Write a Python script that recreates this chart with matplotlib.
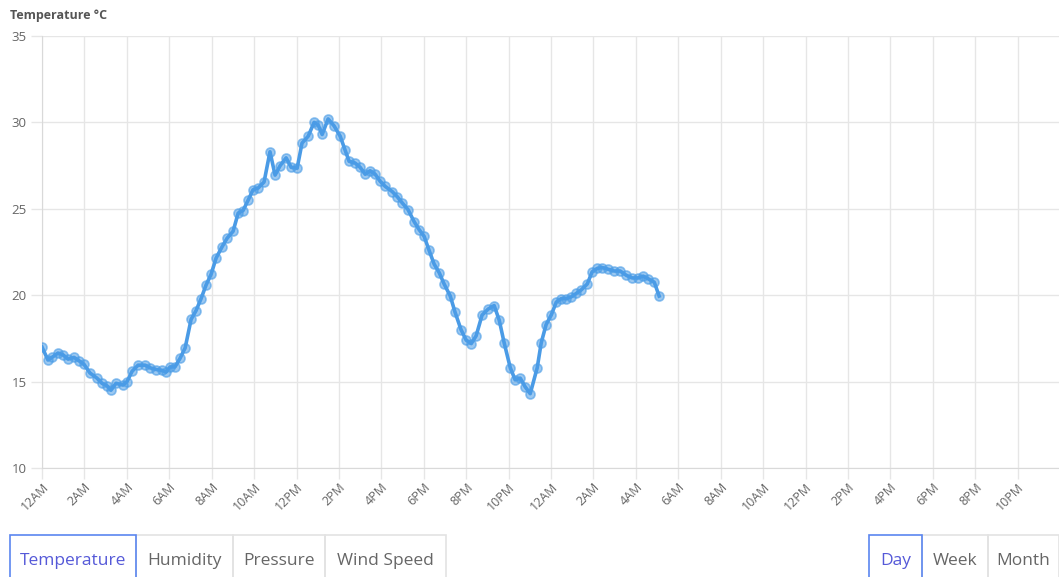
import matplotlib.pyplot as plt
from matplotlib.patches import Rectangle

plt.rcParams['font.family'] = ['Open Sans', 'DejaVu Sans']

# hours since midnight of day 1, and temperature readings (°C)
hours = [0.0, 0.28, 0.47, 0.75, 0.99, 1.23, 1.51, 1.75, 1.98, 2.26,
         2.59, 2.83, 3.07, 3.25, 3.49, 3.82, 4.01, 4.25, 4.53, 4.86,
         5.09, 5.38, 5.66, 5.85, 6.04, 6.27, 6.51, 6.75, 7.03, 7.26,
         7.5, 7.74, 7.97, 8.21, 8.49, 8.73, 9.01, 9.25, 9.48, 9.72,
         9.95, 10.19, 10.47, 10.75, 10.99, 11.23, 11.51, 11.75, 12.03, 12.26,
         12.55, 12.83, 13.02, 13.21, 13.49, 13.77, 14.06, 14.29, 14.48, 14.76,
         15.0, 15.24, 15.47, 15.71, 15.94, 16.18, 16.51, 16.75, 16.98, 17.26,
         17.55, 17.78, 18.02, 18.25, 18.49, 18.73, 18.96, 19.25, 19.48, 19.76,
         20.0, 20.24, 20.47, 20.75, 21.04, 21.32, 21.56, 21.79, 22.08, 22.31,
         22.55, 22.78, 23.02, 23.35, 23.54, 23.77, 24.01, 24.25, 24.48, 24.72,
         24.95, 25.19, 25.42, 25.71, 25.94, 26.18, 26.42, 26.7, 26.98, 27.26,
         27.55, 27.83, 28.11, 28.35, 28.58, 28.87, 29.1]
temps = [17.0, 16.25, 16.4, 16.65, 16.55, 16.3, 16.4, 16.2, 16.0, 15.5,
         15.2, 14.9, 14.75, 14.5, 14.9, 14.8, 15.0, 15.6, 15.95, 15.95,
         15.8, 15.7, 15.65, 15.55, 15.85, 15.85, 16.35, 16.95, 18.6, 19.1,
         19.8, 20.6, 21.2, 22.15, 22.8, 23.3, 23.7, 24.75, 24.9, 25.5,
         26.1, 26.2, 26.55, 28.3, 26.95, 27.5, 27.95, 27.4, 27.35, 28.8,
         29.2, 30.0, 29.85, 29.3, 30.2, 29.8, 29.2, 28.4, 27.75, 27.65,
         27.4, 27.0, 27.2, 27.0, 26.6, 26.3, 26.0, 25.7, 25.35, 24.95,
         24.25, 23.8, 23.4, 22.6, 21.8, 21.3, 20.65, 19.95, 19.0, 18.0,
         17.4, 17.2, 17.65, 18.85, 19.2, 19.4, 18.55, 17.25, 15.8, 15.1,
         15.2, 14.7, 14.3, 15.8, 17.25, 18.3, 18.85, 19.6, 19.8, 19.8,
         19.9, 20.1, 20.3, 20.65, 21.35, 21.55, 21.6, 21.5, 21.4, 21.4,
         21.15, 21.0, 21.0, 21.1, 20.95, 20.75, 19.95]

hour_labels = ["12AM", "2AM", "4AM", "6AM", "8AM", "10AM",
               "12PM", "2PM", "4PM", "6PM", "8PM", "10PM"]
tick_hours = list(range(0, 48, 2))
tick_labels = hour_labels + hour_labels
y_ticks = [10, 15, 20, 25, 30, 35]

metric_buttons = ["Temperature", "Humidity", "Pressure", "Wind Speed"]
range_buttons = ["Day", "Week", "Month"]

W, H = 1059, 577
fig = plt.figure(figsize=(W / 100, H / 100), dpi=100)
ax = fig.add_axes([42 / W, 1 - 468 / H, 1018 / W, 432 / H])

line_col = '#4a9be6'
ax.plot(hours, temps, color=line_col, lw=2.6, zorder=3,
        marker='o', ms=6.5, mfc=(0.29, 0.61, 0.9, 0.55), mec=(0.29, 0.61, 0.9, 0.6), mew=1.2)

ax.set_xlim(0, 48)
ax.set_ylim(10, 35)
ax.set_xticks(tick_hours)
ax.set_xticklabels(tick_labels, rotation=45, ha='right', va='top', rotation_mode='anchor')
ax.set_yticks(y_ticks)
ax.grid(True, color='#e6e6e6', lw=1)
ax.set_axisbelow(True)
for s in ['top', 'right']:
    ax.spines[s].set_visible(False)
for s in ['left', 'bottom']:
    ax.spines[s].set_color('#d9d9d9')
ax.tick_params(axis='both', colors='#e6e6e6', labelcolor='#666666', length=8, width=1)
ax.tick_params(axis='y', pad=3, labelsize=9.5)
ax.tick_params(axis='x', pad=1, labelsize=9)

fig.text(10 / W, 1 - 16 / H, "Temperature °C", fontsize=9, fontweight='bold',
         color='#555555', va='center', ha='left')


def button(x0, x1, label, active):
    edge = '#5b86f0' if active else '#e3e3e3'
    fig.patches.append(Rectangle((x0 / W, -0.05), (x1 - x0) / W, 0.05 + (H - 535) / H,
                                 transform=fig.transFigure, fill=False,
                                 edgecolor=edge, lw=1.2, zorder=5 if active else 4))
    fig.text((x0 + x1) / 2 / W, 1 - 561 / H, label, fontsize=12.5,
             color='#5559d8' if active else '#666666', ha='center', va='center')


metric_edges = [10, 136, 233, 325, 446]
for i, lab in enumerate(metric_buttons):
    button(metric_edges[i], metric_edges[i + 1], lab, i == 0)
range_edges = [869, 922, 988, 1059]
for i, lab in enumerate(range_buttons):
    button(range_edges[i], range_edges[i + 1], lab, i == 0)

fig.savefig('out.png', dpi=100)
